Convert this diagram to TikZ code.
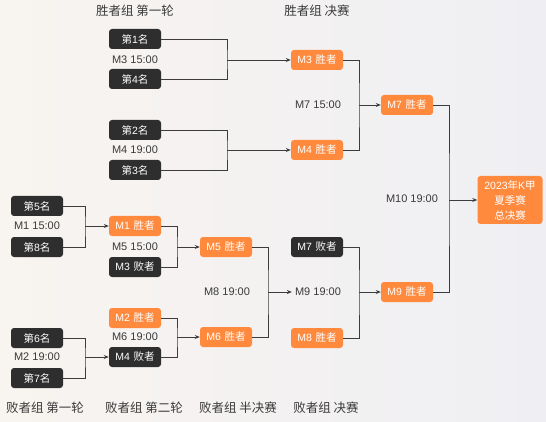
\documentclass[tikz,border=0pt]{standalone}
\usepackage{fontspec}
\setmainfont{Noto Sans CJK SC}
\newfontfamily\lat{Liberation Sans}
\usetikzlibrary{arrows.meta}
\definecolor{dk}{HTML}{2E2E2E}
\definecolor{og}{HTML}{FF8A3D}
\definecolor{ln}{HTML}{3C3C3C}
\definecolor{tx}{HTML}{3A3A3A}
\definecolor{bgl}{HTML}{F8F4F0}
\definecolor{bgr}{HTML}{EFEFF3}
\newcommand{\mg}[1]{{\lat #1}\hspace{3.5pt}}
\tikzset{
  box/.style={rounded corners=3pt,minimum width=52pt,minimum height=20pt,inner sep=0pt,text=white,font=\fontsize{10.5}{12}\selectfont},
  dbox/.style={box,fill=dk},
  obox/.style={box,fill=og},
  lbl/.style={text=tx,font=\lat\fontsize{11}{12}\selectfont,inner sep=0pt},
  ttl/.style={text=tx,font=\fontsize{12.5}{14}\selectfont,inner sep=0pt},
  conn/.style={draw=ln,line width=0.9pt},
  arr/.style={conn,-{Stealth[length=5pt,width=4pt]}}
}
\begin{document}
\begin{tikzpicture}[x=1pt,y=-1pt]
\shade[left color=bgl,right color=bgr] (0,0) rectangle (546,422);
\useasboundingbox (0,0) rectangle (546,422);
% titles
\node[ttl] (t1) at (135,11) {胜者组 第一轮};
\node[ttl] (t2) at (317,11) {胜者组 决赛};
\node[ttl] (t3) at (45,408) {败者组 第一轮};
\node[ttl] (t4) at (144,408) {败者组 第二轮};
\node[ttl] (t5) at (238,408) {败者组 半决赛};
\node[ttl] (t6) at (326,408) {败者组 决赛};
% winners round 1
\node[dbox] (r1) at (135,39) {第{\lat 1}名};
\node[lbl] (l3) at (135,60) {M3 15:00};
\node[dbox] (r4) at (135,79) {第{\lat 4}名};
\node[dbox] (r2) at (135,130) {第{\lat 2}名};
\node[lbl] (l4) at (135,150) {M4 19:00};
\node[dbox] (r3) at (135,170) {第{\lat 3}名};
% winners final
\node[obox] (w3) at (317,60) {\mg{M3}胜者};
\node[obox] (w4) at (317,150) {\mg{M4}胜者};
\node[lbl] (l7) at (318,105) {M7 15:00};
\node[obox] (w7) at (407,105) {\mg{M7}胜者};
% grand final
\node[obox,minimum width=65pt,minimum height=48pt,align=center,font=\fontsize{10.5}{15}\selectfont] (fin) at (510,200) {{\lat 2023}年{\lat K}甲\\夏季赛\\总决赛};
\node[lbl] (l10) at (412,199) {M10 19:00};
% losers round 1
\node[dbox] (r5) at (37,206) {第{\lat 5}名};
\node[lbl] (l1) at (37,226) {M1 15:00};
\node[dbox] (r8) at (37,247) {第{\lat 8}名};
\node[dbox] (r6) at (37,338) {第{\lat 6}名};
\node[lbl] (l2) at (37,357) {M2 19:00};
\node[dbox] (r7) at (37,378) {第{\lat 7}名};
% losers round 2
\node[obox] (w1) at (135,226) {\mg{M1}胜者};
\node[lbl] (l5) at (135,247) {M5 15:00};
\node[dbox] (d3) at (135,267) {\mg{M3}败者};
\node[obox] (w2) at (135,318) {\mg{M2}胜者};
\node[lbl] (l6) at (135,337) {M6 19:00};
\node[dbox] (d4) at (135,357) {\mg{M4}败者};
% losers semi
\node[obox] (w5) at (226,247) {\mg{M5}胜者};
\node[obox] (w6) at (226,337) {\mg{M6}胜者};
\node[lbl] (l8) at (227,292) {M8 19:00};
% losers final
\node[dbox] (d7) at (317,247) {\mg{M7}败者};
\node[lbl] (l9) at (318,292) {M9 19:00};
\node[obox] (w8) at (317,338) {\mg{M8}胜者};
\node[obox] (w9) at (407,292) {\mg{M9}胜者};
% junctions
\coordinate (j3) at (227,60);
\coordinate (j4) at (227,150);
\coordinate (j7) at (359,105);
\coordinate (j1) at (85,226);
\coordinate (j2) at (85,357);
\coordinate (j5) at (177,247);
\coordinate (j6) at (177,337);
\coordinate (j8) at (268,292);
\coordinate (j9) at (359,292);
\coordinate (j10) at (449,200);
% connectors
\draw[conn] (r1.east) -| (j3) |- (r4.east);
\draw[arr] (j3) -- (w3.west);
\draw[conn] (r2.east) -| (j4) |- (r3.east);
\draw[arr] (j4) -- (w4.west);
\draw[conn] (w3.east) -| (j7) |- (w4.east);
\draw[arr] (j7) -- (w7.west);
\draw[conn] (w7.east) -| (j10) |- (w9.east);
\draw[arr] (j10) -- (fin.west);
\draw[conn] (r5.east) -| (j1) |- (r8.east);
\draw[arr] (j1) -- (w1.west);
\draw[conn] (r6.east) -| (j2) |- (r7.east);
\draw[arr] (j2) -- (d4.west);
\draw[conn] (w1.east) -| (j5) |- (d3.east);
\draw[arr] (j5) -- (w5.west);
\draw[conn] (w2.east) -| (j6) |- (d4.east);
\draw[arr] (j6) -- (w6.west);
\draw[conn] (w5.east) -| (j8) |- (w6.east);
\draw[arr] (j8) -- ([xshift=-3pt]l9.west);
\draw[conn] (d7.east) -| (j9) |- (w8.east);
\draw[arr] (j9) -- (w9.west);
\end{tikzpicture}
\end{document}
